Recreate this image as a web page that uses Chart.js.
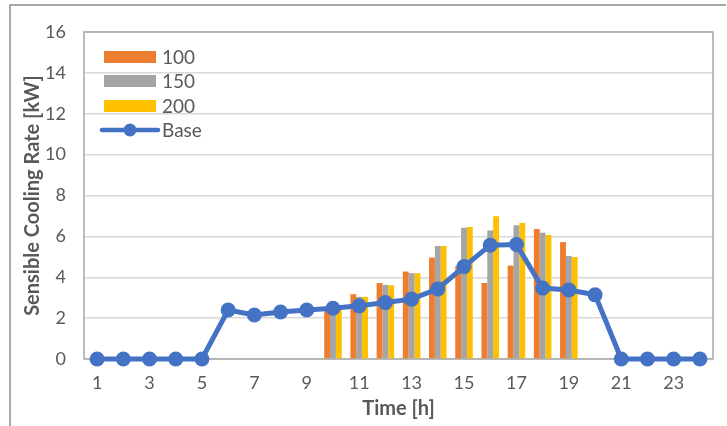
<!DOCTYPE html>
<html>
<head>
<meta charset="utf-8">
<script src="https://cdn.jsdelivr.net/npm/chart.js@4"></script>
<style>
  html, body { margin: 0; padding: 0; background: #fff; }
  #wrap { width: 727px; height: 426px; }
</style>
</head>
<body>
<div id="wrap"><canvas id="myChart" width="727" height="426"></canvas></div>
<script>
// hours on the x axis
const hours = ['1','2','3','4','5','6','7','8','9','10','11','12','13','14','15','16','17','18','19','20','21','22','23','24'];

// bar series (only 10h - 19h have values)
const s100 = [null,null,null,null,null,null,null,null,null,2.5,3.17,3.72,4.28,4.96,4.55,3.72,4.57,6.36,5.72,null,null,null,null,null];
const s150 = [null,null,null,null,null,null,null,null,null,2.55,3.04,3.63,4.2,5.53,6.42,6.29,6.54,6.18,5.04,null,null,null,null,null];
const s200 = [null,null,null,null,null,null,null,null,null,2.5,3.04,3.61,4.2,5.53,6.46,6.98,6.65,6.07,4.99,null,null,null,null,null];

// base line
const base = [0,0,0,0,0,2.4,2.15,2.3,2.4,2.48,2.6,2.76,2.93,3.43,4.52,5.57,5.6,3.47,3.38,3.14,0,0,0,0];

const FONT = 'Lato';
const TEXT = '#595959';

const COLORS = {
  orange: '#ED7D31',
  grey: '#A5A5A5',
  yellow: '#FFC000',
  blue: '#4472C4'
};

// frame + plot border + legend inside the plot
const decor = {
  id: 'decor',
  beforeDraw(chart) {
    const ctx = chart.ctx;
    ctx.save();
    ctx.fillStyle = '#fff';
    ctx.fillRect(0, 0, chart.width, chart.height);
    ctx.strokeStyle = '#8c8c8c';
    ctx.lineWidth = 1.5;
    ctx.beginPath();
    ctx.moveTo(10, 426);
    ctx.lineTo(10, 5);
    ctx.lineTo(726, 5);
    ctx.stroke();
    ctx.restore();
  },
  beforeDatasetsDraw(chart) {
    const ctx = chart.ctx;
    const a = chart.chartArea;
    ctx.save();
    ctx.strokeStyle = '#a6a6a6';
    ctx.lineWidth = 1.5;
    ctx.strokeRect(a.left, a.top, a.right - a.left, a.bottom - a.top);
    ctx.restore();
  },
  afterDraw(chart) {
    const ctx = chart.ctx;
    const a = chart.chartArea;
    ctx.save();
    ctx.font = '19px ' + FONT;
    ctx.textBaseline = 'middle';
    ctx.fillStyle = TEXT;
    const items = [
      { label: '100', color: COLORS.orange, y: 57 },
      { label: '150', color: COLORS.grey, y: 81 },
      { label: '200', color: COLORS.yellow, y: 106 }
    ];
    const x0 = a.left + 20;
    items.forEach(it => {
      ctx.fillStyle = it.color;
      ctx.fillRect(x0, it.y - 6, 52, 12);
      ctx.fillStyle = TEXT;
      ctx.fillText(it.label, x0 + 58, it.y + 1);
    });
    // line item
    const ly = 130;
    ctx.strokeStyle = COLORS.blue;
    ctx.lineWidth = 4.5;
    ctx.lineCap = 'round';
    ctx.beginPath();
    ctx.moveTo(x0 - 2, ly);
    ctx.lineTo(x0 + 54, ly);
    ctx.stroke();
    ctx.fillStyle = COLORS.blue;
    ctx.beginPath();
    ctx.arc(x0 + 26, ly, 6.5, 0, Math.PI * 2);
    ctx.fill();
    ctx.fillStyle = TEXT;
    ctx.fillText('Base', x0 + 58, ly + 1);
    ctx.restore();
  }
};

const data = {
  labels: hours,
  datasets: [
    {
      type: 'line',
      label: 'Base',
      data: base,
      borderColor: COLORS.blue,
      backgroundColor: COLORS.blue,
      borderWidth: 5,
      pointRadius: 7.5,
      pointHoverRadius: 7.5,
      pointBorderWidth: 0,
      tension: 0,
      clip: false,
      order: 0
    },
    { type: 'bar', label: '100', data: s100, backgroundColor: COLORS.orange, order: 1 },
    { type: 'bar', label: '150', data: s150, backgroundColor: COLORS.grey, order: 1 },
    { type: 'bar', label: '200', data: s200, backgroundColor: COLORS.yellow, order: 1 }
  ]
};

const config = {
  type: 'bar',
  data: data,
  plugins: [decor],
  options: {
    responsive: false,
    animation: false,
    layout: { padding: { top: 32, right: 14, left: 0, bottom: 0 } },
    datasets: {
      bar: { barPercentage: 1, categoryPercentage: 0.67 }
    },
    plugins: {
      legend: { display: false },
      tooltip: { enabled: false }
    },
    scales: {
      x: {
        grid: { display: false, drawTicks: false },
        border: { display: false },
        ticks: {
          autoSkip: false,
          maxRotation: 0,
          padding: 13,
          color: TEXT,
          font: { family: FONT, size: 18 },
          callback: function (val, i) { return i % 2 === 0 ? hours[i] : ''; }
        },
        title: {
          display: true,
          text: 'Time [h]',
          color: TEXT,
          font: { family: FONT, size: 20, weight: 'bold' },
          padding: { top: 0, bottom: 5 }
        },
        afterFit: function (s) { s.height = 67; }
      },
      y: {
        min: 0,
        max: 16,
        grid: { color: '#d9d9d9', lineWidth: 1.5, drawTicks: false },
        border: { display: false },
        ticks: {
          stepSize: 2,
          padding: 18,
          color: TEXT,
          font: { family: FONT, size: 18 }
        },
        title: {
          display: true,
          text: 'Sensible Cooling Rate [kW]',
          color: TEXT,
          font: { family: FONT, size: 20, weight: 'bold' },
          padding: { top: 21, bottom: 0 }
        },
        afterFit: function (s) { s.width = 84; }
      }
    }
  }
};

const myChart = new Chart(document.getElementById('myChart'), config);
</script>
</body>
</html>
